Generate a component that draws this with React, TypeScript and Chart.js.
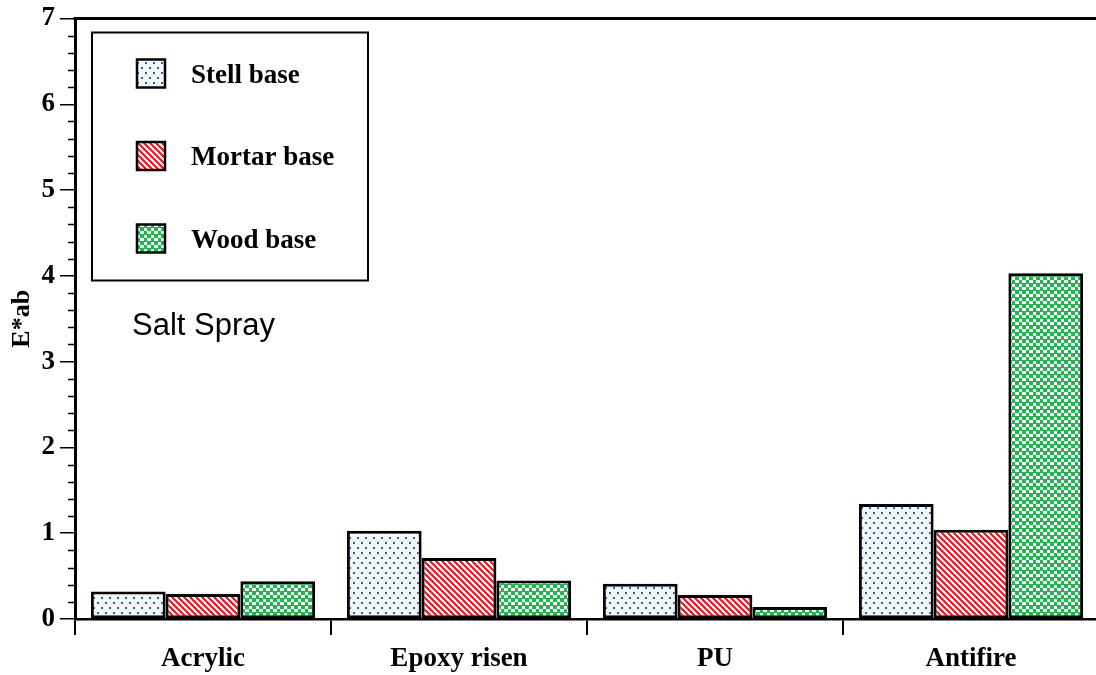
import React, { useEffect, useRef } from 'react';
import Chart from 'chart.js/auto';

const categories = ['Acrylic', 'Epoxy risen', 'PU', 'Antifire'];
const seriesNames = ['Stell base', 'Mortar base', 'Wood base'];
const stellValues = [0.32, 1.03, 0.41, 1.34];
const mortarValues = [0.29, 0.71, 0.28, 1.04];
const woodValues = [0.44, 0.45, 0.14, 4.03];
const yTicks = [0, 1, 2, 3, 4, 5, 6, 7];
const yTitle = 'E*ab';
const annotation = 'Salt Spray';

const SERIF = '"Liberation Serif", "Times New Roman", serif';
const SANS = '"Liberation Sans", Arial, sans-serif';

function makePattern(main: CanvasRenderingContext2D, kind: string): CanvasPattern | string {
  const c = document.createElement('canvas');
  const ctx = c.getContext('2d')!;
  if (kind === 'dots') {
    c.width = 8; c.height = 10;
    ctx.fillStyle = '#f1f7fc'; ctx.fillRect(0, 0, 8, 10);
    ctx.fillStyle = '#2e5f9c';
    ctx.fillRect(1, 2, 2, 2);
    ctx.fillRect(5, 7, 2, 2);
  } else if (kind === 'stripes') {
    c.width = 6; c.height = 6;
    ctx.fillStyle = '#ffffff'; ctx.fillRect(0, 0, 6, 6);
    ctx.fillStyle = '#e52630';
    for (let y = 0; y < 6; y++) for (let x = 0; x < 6; x++) {
      if (((x - y + 12) % 6) < 3) ctx.fillRect(x, y, 1, 1);
    }
  } else {
    c.width = 7; c.height = 7;
    ctx.fillStyle = '#1fb84e'; ctx.fillRect(0, 0, 7, 7);
    ctx.fillStyle = '#ffffff';
    ctx.fillRect(0, 0, 4, 3);
    ctx.fillRect(4, 4, 3, 3);
  }
  return main.createPattern(c, 'repeat') || '#ccc';
}

const overlayPlugin = {
  id: 'overlay',
  afterDraw(chart: any) {
    const { ctx, chartArea } = chart;
    const ys = chart.scales.y;
    const L = chartArea.left, T = chartArea.top;
    ctx.save();
    // top frame line
    ctx.strokeStyle = '#000';
    ctx.lineWidth = 3;
    ctx.beginPath();
    ctx.moveTo(L - 1.5, T);
    ctx.lineTo(chartArea.right, T);
    ctx.stroke();
    // minor ticks
    ctx.lineWidth = 1.5;
    ctx.beginPath();
    for (let i = 0; i < yTicks.length - 1; i++) {
      for (let k = 1; k < 5; k++) {
        const v = yTicks[i] + (yTicks[i + 1] - yTicks[i]) * k / 5;
        const py = Math.round(ys.getPixelForValue(v)) + 0.5;
        ctx.moveTo(L - 7, py);
        ctx.lineTo(L, py);
      }
    }
    ctx.stroke();
    // legend box
    const bx = L + 17, by = T + 14, bw = 276, bh = 248;
    ctx.fillStyle = '#fff';
    ctx.fillRect(bx, by, bw, bh);
    ctx.lineWidth = 2;
    ctx.strokeStyle = '#000';
    ctx.strokeRect(bx, by, bw, bh);
    const ds = chart.data.datasets;
    ds.forEach((d: any, i: number) => {
      const sx = L + 62, sy = T + 41 + i * 82.5, ss = 28;
      ctx.fillStyle = d.backgroundColor;
      ctx.fillRect(sx, sy, ss, ss);
      ctx.lineWidth = 2.5;
      ctx.strokeStyle = '#000';
      ctx.strokeRect(sx, sy, ss, ss);
      ctx.fillStyle = '#000';
      ctx.font = 'bold 27px ' + SERIF;
      ctx.textAlign = 'left';
      ctx.textBaseline = 'alphabetic';
      ctx.fillText(d.label, L + 116, sy + 23);
    });
    // annotation
    ctx.fillStyle = '#000';
    ctx.font = '31px ' + SANS;
    ctx.textAlign = 'left';
    ctx.textBaseline = 'alphabetic';
    ctx.fillText(annotation, L + 57, T + 316);
    ctx.restore();
  },
};

export default function App() {
  const ref = useRef<HTMLCanvasElement>(null);
  useEffect(() => {
    const canvas = ref.current!;
    const main = canvas.getContext('2d')!;
    const fills = [makePattern(main, 'dots'), makePattern(main, 'stripes'), makePattern(main, 'checker')];
    const values = [stellValues, mortarValues, woodValues];
    const chart = new Chart(canvas, {
      type: 'bar',
      data: {
        labels: categories,
        datasets: seriesNames.map((name, i) => ({
          label: name,
          data: values[i],
          backgroundColor: fills[i] as any,
          borderColor: '#000',
          borderWidth: 3,
          borderSkipped: false,
          barPercentage: 1,
          categoryPercentage: 0.876,
        })),
      },
      options: {
        responsive: false,
        devicePixelRatio: 1,
        animation: false,
        layout: { padding: { top: 18, right: 11, left: 0, bottom: 0 } },
        plugins: { legend: { display: false }, tooltip: { enabled: false } },
        scales: {
          x: {
            type: 'category',
            offset: true,
            grid: { display: true, drawOnChartArea: false, drawTicks: true, tickLength: 16, color: '#000', lineWidth: 2, offset: true },
            border: { display: true, color: '#000', width: 2.5 },
            ticks: { color: '#000', padding: 8, font: { family: SERIF, size: 27, weight: 'bold' }, maxRotation: 0 },
            afterFit: (s: any) => { s.height = 56; },
          },
          y: {
            min: 0,
            max: 7,
            afterBuildTicks: (s: any) => { s.ticks = yTicks.map((v) => ({ value: v })); },
            grid: { display: true, drawOnChartArea: false, drawTicks: true, tickLength: 15, color: '#000', lineWidth: 1.5 },
            border: { display: true, color: '#000', width: 3 },
            ticks: { color: '#000', padding: 5, font: { family: SERIF, size: 27, weight: 'bold', lineHeight: 1 } },
            title: { display: true, text: yTitle, color: '#000', padding: { top: 7, bottom: 0 }, font: { family: SERIF, size: 26, weight: 'bold' } },
            afterFit: (s: any) => { s.width = 75; },
          },
        },
      },
      plugins: [overlayPlugin],
    } as any);
    return () => chart.destroy();
  }, []);
  return (
    <div style={{ position: 'absolute', left: 0, top: 0, width: 1096, height: 675, overflow: 'hidden', background: '#fff' }}>
      <canvas ref={ref} width={1110} height={675} style={{ width: 1110, height: 675, display: 'block' }} />
    </div>
  );
}
